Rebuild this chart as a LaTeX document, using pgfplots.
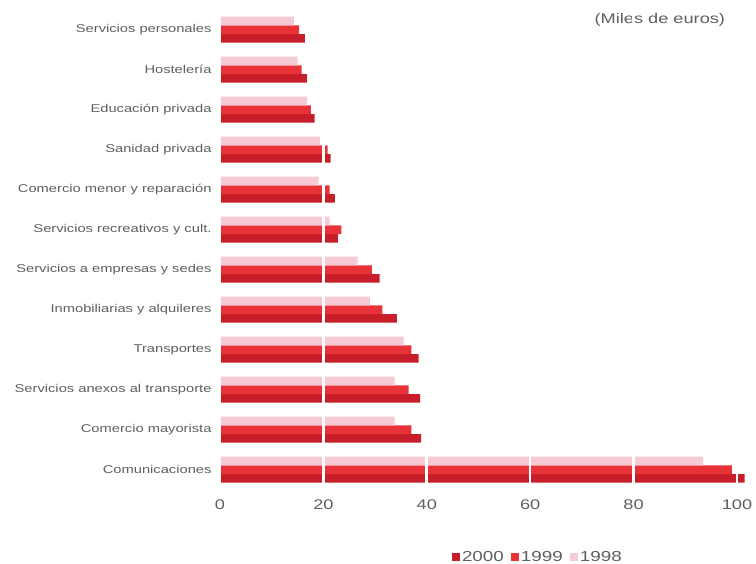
\documentclass[border=0pt]{standalone}
\usepackage{fontspec}
\setmainfont{Liberation Sans}
\usepackage{pgfplots}
\pgfplotsset{compat=1.18}
\definecolor{cA}{RGB}{200,30,42}
\definecolor{cB}{RGB}{232,50,56}
\definecolor{cC}{RGB}{246,202,212}
\definecolor{txt}{RGB}{95,95,95}
\newcommand\hs[1]{\scalebox{1.3}[1]{#1}}
\begin{document}
\begin{tikzpicture}
\begin{axis}[
  at={(220pt,66.3pt)}, anchor=south west,
  scale only axis, width=532.5pt, height=496pt,
  xmin=0, xmax=103, ymin=-0.7, ymax=11.7,
  xbar, bar width=8.7pt,
  axis line style={draw=none},
  major tick length=0pt,
  xtick={0,20,40,60,80,100},
  xticklabels={\hs{0},\hs{20},\hs{40},\hs{60},\hs{80},\hs{100}},
  ytick={0,1,2,3,4,5,6,7,8,9,10,11},
  yticklabels={\hs{Comunicaciones},\hs{Comercio mayorista},\hs{Servicios anexos al transporte},\hs{Transportes},\hs{Inmobiliarias y alquileres},\hs{Servicios a empresas y sedes},\hs{Servicios recreativos y cult.},\hs{Comercio menor y reparación},\hs{Sanidad privada},\hs{Educación privada},\hs{Hostelería},\hs{Servicios personales}},
  xmajorgrids, grid style={white, line width=2.6pt},
  axis on top,
  tick label style={text=txt},
  xticklabel style={font=\fontsize{14}{14}\selectfont, yshift=2pt},
  yticklabel style={font=\fontsize{11.3}{12}\selectfont, xshift=-5pt},
  legend style={at={(0.597,-0.12)}, anchor=center, legend columns=3, draw=none, fill=none,
    font=\fontsize{14.5}{14.5}\selectfont, text=txt,
    /tikz/every even column/.append style={column sep=5pt}},
  legend image code/.code={\path[#1,draw=none] (0pt,-4pt) rectangle (8pt,4pt);},
  clip=false,
]
\addplot[fill=cA, draw=none, bar shift=-8.7pt] coordinates {
(101.5,0) (38.9,1) (38.7,2) (38.4,3) (34.2,4) (30.9,5) (22.8,6) (22.2,7) (21.4,8) (18.3,9) (16.8,10) (16.4,11)};
\addlegendentry{\hs{2000}}
\addplot[fill=cB, draw=none, bar shift=0pt] coordinates {
(99.0,0) (37.0,1) (36.5,2) (37.0,3) (31.4,4) (29.4,5) (23.5,6) (21.2,7) (20.8,8) (17.6,9) (15.8,10) (15.3,11)};
\addlegendentry{\hs{1999}}
\addplot[fill=cC, draw=none, bar shift=8.7pt] coordinates {
(93.4,0) (33.8,1) (33.8,2) (35.5,3) (29.0,4) (26.6,5) (21.2,6) (19.1,7) (19.3,8) (16.8,9) (15.0,10) (14.3,11)};
\addlegendentry{\hs{1998}}
\node[font=\fontsize{14}{14}\selectfont, text=txt] at (rel axis cs:0.826,0.963) {\hs{(Miles de euros)}};
\end{axis}
\pgfresetboundingbox
\path[use as bounding box] (0,0) rectangle (756pt,564pt);
\end{tikzpicture}
\end{document}
